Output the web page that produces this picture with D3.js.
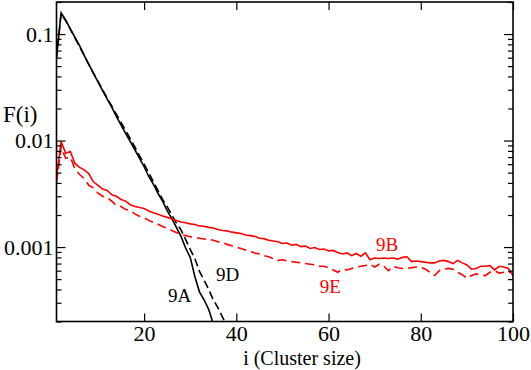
<!DOCTYPE html>
<html>
<head>
<meta charset="utf-8">
<script src="https://cdn.jsdelivr.net/npm/d3@7"></script>
<style>
  body { margin: 0; background: #fff; }
  text { font-family: "Liberation Serif", "DejaVu Serif", "Times New Roman", serif; }
</style>
</head>
<body>
<div id="chart"></div>
<script>
// F(i) for cluster size i = 1, 2, 3, ... (array index + 1)
const f9A = [0.060, 0.158, 0.135, 0.112, 0.093, 0.078, 0.063, 0.052, 0.043, 0.0355,
  0.0295, 0.0245, 0.0205, 0.0168, 0.0140, 0.0116, 0.0098, 0.0082, 0.0068, 0.0057,
  0.0046, 0.0039, 0.0032, 0.0027, 0.0022, 0.00185, 0.00153, 0.00126, 0.00098, 0.00080,
  0.00053, 0.00038, 0.00032, 0.00026, 0.00019];

const f9D = [0.060, 0.156, 0.133, 0.111, 0.092, 0.076, 0.063, 0.052, 0.043, 0.036,
  0.030, 0.025, 0.021, 0.0176, 0.0148, 0.0124, 0.0104, 0.0087, 0.0072, 0.0060,
  0.0050, 0.0041, 0.0034, 0.0028, 0.0024, 0.0020, 0.00168, 0.00145, 0.00118, 0.00095,
  0.00078, 0.00059, 0.00049, 0.00040, 0.00032, 0.00027, 0.00022, 0.00018, 0.00015];

const f9B = [0.0045, 0.0098, 0.0076, 0.0079, 0.0061, 0.0056, 0.0053, 0.0049, 0.0041, 0.0038,
  0.0035, 0.0034, 0.0031, 0.0030, 0.0028, 0.0027, 0.0025, 0.0024, 0.00235, 0.0023,
  0.00218, 0.0021, 0.00203, 0.00196, 0.0019, 0.00183, 0.00178, 0.00172, 0.00169, 0.00165,
  0.00163, 0.00158, 0.00157, 0.00153, 0.00151, 0.00146, 0.00143, 0.00142, 0.00138, 0.00136,
  0.00134, 0.0013, 0.00128, 0.00126, 0.00121, 0.0012, 0.00116, 0.00114, 0.00112, 0.00108,
  0.00109, 0.00104, 0.00106, 0.00101, 0.00102, 0.00097, 0.00099, 0.00095, 0.00096, 0.00092,
  0.00093, 0.00089, 0.00086, 0.00088, 0.00083, 0.00087, 0.00082, 0.00088, 0.00076, 0.00079,
  0.00078, 0.00079, 0.00078, 0.00079, 0.00077, 0.00080, 0.00081, 0.00073, 0.00074, 0.00073,
  0.00072, 0.00071, 0.00071, 0.00074, 0.00075, 0.00073, 0.00070, 0.00075, 0.00071, 0.00068,
  0.00062, 0.00063, 0.00066, 0.00066, 0.00067, 0.00061, 0.00066, 0.00065, 0.00063, 0.00054];

const f9E = [0.0040, 0.0087, 0.0068, 0.0070, 0.0054, 0.0048, 0.0044, 0.0038, 0.0036, 0.0032,
  0.0030, 0.0029, 0.0027, 0.00245, 0.0024, 0.00225, 0.0022, 0.00205, 0.00195, 0.00188,
  0.00178, 0.0017, 0.00164, 0.00156, 0.0015, 0.00143, 0.00137, 0.00131, 0.00128, 0.00125,
  0.00122, 0.00121, 0.00119, 0.00118, 0.00116, 0.00112, 0.0011, 0.00106, 0.00103, 0.0010,
  0.00097, 0.00094, 0.00091, 0.00088, 0.00086, 0.00083, 0.00081, 0.00078, 0.00075, 0.00076,
  0.00074, 0.00073, 0.00072, 0.00071, 0.0007, 0.00069, 0.00068, 0.00066, 0.00066, 0.00064,
  0.00061, 0.00058, 0.00062, 0.00061, 0.00063, 0.00065, 0.00066, 0.00067, 0.00069, 0.00065,
  0.00069, 0.00066, 0.0006, 0.00066, 0.00064, 0.00063, 0.00063, 0.00064, 0.00065, 0.00065,
  0.00062, 0.00058, 0.00054, 0.0006, 0.00062, 0.00063, 0.00062, 0.00058, 0.00055, 0.00051,
  0.00054, 0.00056, 0.00055, 0.00054, 0.00058, 0.0006, 0.00057, 0.00058, 0.00057, 0.00059];

const xTicks = [20, 40, 60, 80, 100];
const yTicks = [0.001, 0.01, 0.1];

const series = [
  { name: "9A", values: f9A, color: "black", dash: null },
  { name: "9D", values: f9D, color: "black", dash: "8,4" },
  { name: "9B", values: f9B, color: "#ff0000", dash: null },
  { name: "9E", values: f9E, color: "#ff0000", dash: "9,5" }
];

// labels placed next to the curves (data coordinates of the text baseline start)
const curveLabels = [
  { text: "9A", x: 25.2, y: 0.000305, color: "black" },
  { text: "9D", x: 35.6, y: 0.00048, color: "black" },
  { text: "9B", x: 70.3, y: 0.00092, color: "#ff0000" },
  { text: "9E", x: 58.1, y: 0.00037, color: "#ff0000" }
];

const width = 531, height = 370;
const margin = { top: 2, right: 18, bottom: 48.5, left: 56.5 };
const iw = width - margin.left - margin.right;
const ih = height - margin.top - margin.bottom;

const svg = d3.select("#chart").append("svg")
  .attr("width", width)
  .attr("height", height);

const g = svg.append("g")
  .attr("transform", `translate(${margin.left},${margin.top})`);

const x = d3.scaleLinear().domain([1, 100]).range([0, iw]);
const y = d3.scaleLog().domain([0.0002, 0.2]).range([ih, 0]);

const minorY = y.ticks().filter(d => !yTicks.some(t => Math.abs(t - d) < 1e-12));

g.append("clipPath").attr("id", "clip")
  .append("rect").attr("width", iw).attr("height", ih);

const line = d3.line()
  .x(d => x(d[0]))
  .y(d => y(d[1]));

g.append("g").attr("clip-path", "url(#clip)")
  .selectAll("path")
  .data(series)
  .enter().append("path")
  .attr("d", d => line(d.values.map((v, k) => [k + 1, v])))
  .attr("fill", "none")
  .attr("stroke", d => d.color)
  .attr("stroke-width", 1.6)
  .attr("stroke-dasharray", d => d.dash);

// axes: ticks point inward, mirrored on top and right
function styleAxis(sel) {
  sel.attr("font-family", null);
  sel.select(".domain").remove();
  sel.selectAll("line").attr("stroke", "black").attr("stroke-width", 1.2);
  sel.selectAll("text").attr("fill", "black");
}

g.append("g").attr("transform", `translate(0,${ih})`)
  .call(d3.axisBottom(x).tickValues(xTicks).tickSize(-8).tickPadding(4).tickFormat(d3.format("d")))
  .call(styleAxis)
  .selectAll("text").style("font-size", "22px");

g.append("g")
  .call(d3.axisTop(x).tickValues(xTicks).tickSize(-8).tickFormat(""))
  .call(styleAxis);

g.append("g")
  .call(d3.axisLeft(y).tickValues(yTicks).tickSize(-9).tickPadding(3).tickFormat(d => String(d)))
  .call(styleAxis)
  .selectAll("text").style("font-size", "22px");

g.append("g")
  .call(d3.axisLeft(y).tickValues(minorY).tickSize(-5).tickFormat(""))
  .call(styleAxis);

g.append("g").attr("transform", `translate(${iw},0)`)
  .call(d3.axisRight(y).tickValues(yTicks).tickSize(-9).tickFormat(""))
  .call(styleAxis);

g.append("g").attr("transform", `translate(${iw},0)`)
  .call(d3.axisRight(y).tickValues(minorY).tickSize(-5).tickFormat(""))
  .call(styleAxis);

// frame
g.append("rect")
  .attr("width", iw)
  .attr("height", ih)
  .attr("fill", "none")
  .attr("stroke", "black")
  .attr("stroke-width", 1.6);

g.selectAll(".curve-label")
  .data(curveLabels)
  .enter().append("text")
  .attr("class", "curve-label")
  .attr("x", d => x(d.x))
  .attr("y", d => y(d.y))
  .attr("fill", d => d.color)
  .style("font-size", "19px")
  .text(d => d.text);

svg.append("text")
  .attr("x", 302)
  .attr("y", 365)
  .attr("text-anchor", "middle")
  .style("font-size", "20px")
  .text("i (Cluster size)");

svg.append("text")
  .attr("x", 3)
  .attr("y", 122)
  .style("font-size", "23px")
  .text("F(i)");
</script>
</body>
</html>
